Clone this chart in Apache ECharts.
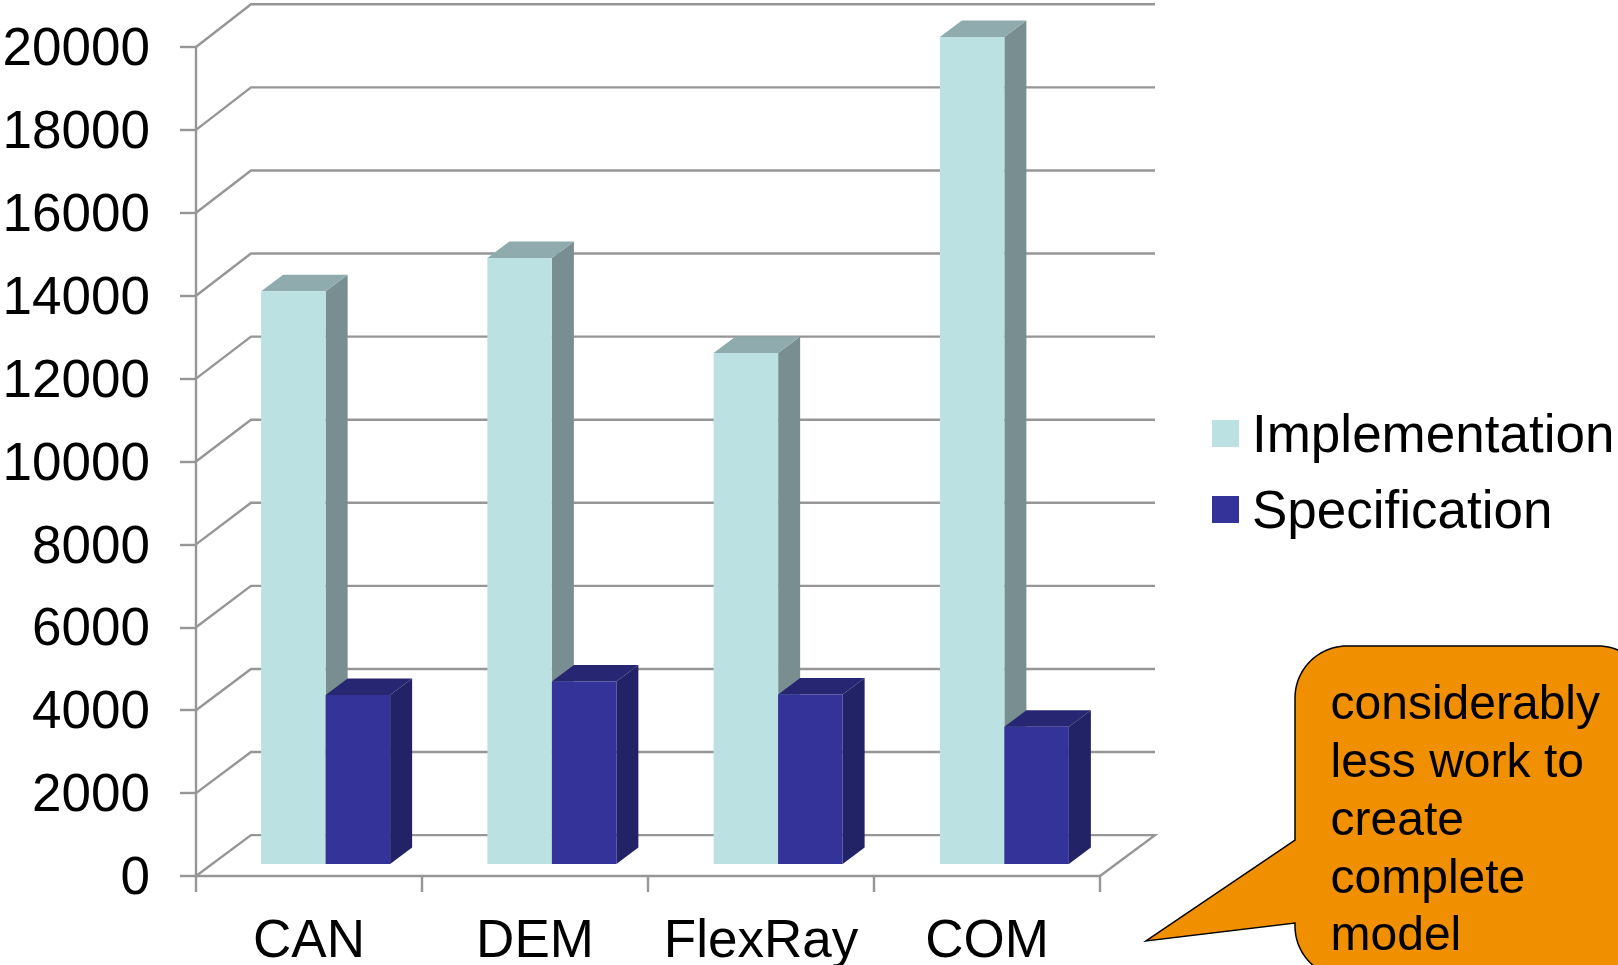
<!DOCTYPE html>
<html>
<head>
<meta charset="utf-8">
<style>html,body{margin:0;padding:0;background:#fff;overflow:hidden}#c{width:1618px;height:965px}</style>
<script src="https://cdn.jsdelivr.net/npm/echarts@6/dist/echarts.min.js"></script>
</head>
<body>
<div id="c"></div>
<script>
var categories = ['CAN', 'DEM', 'FlexRay', 'COM'];
var implementation = [13820, 14620, 12330, 19950];
var specification = [4080, 4400, 4090, 3310];
var valueTicks = [0, 2000, 4000, 6000, 8000, 10000, 12000, 14000, 16000, 18000, 20000];
var calloutLines = ['considerably', 'less work to', 'create', 'complete', 'model'];

var FONT = 'Liberation Sans';
var GRID_COLOR = '#969696';
var BAR_W = 64.5, DX = 22, DY = 16.5;
var WALL_DX = 55, WALL_TOP = 4.3, WALL_SCALE = 830.8 / 829;

function gridItem(params, api) {
  var p = api.coord([0, api.value(1)]);
  var r = params.coordSys;
  var x0 = r.x, y = p[1];
  var by = WALL_TOP + (y - r.y) * WALL_SCALE;
  var pts = [[x0, y], [x0 + WALL_DX, by], [r.x + r.width + WALL_DX, by]];
  if (api.value(1) === 0) pts.push([r.x + r.width, y]);
  return {type: 'polyline', shape: {points: pts}, style: {stroke: GRID_COLOR, lineWidth: 2.4, fill: null}};
}
function sideItem(side, topColor, sideColor) {
  return function (params, api) {
    var top = api.coord([api.value(0), api.value(1)]);
    var base = api.coord([api.value(0), 0]);
    var l = side < 0 ? top[0] - BAR_W : top[0];
    var rr = l + BAR_W, t = top[1], b = base[1];
    return {type: 'group', children: [
      {type: 'polygon', shape: {points: [[rr, t], [rr + DX, t - DY], [rr + DX, b - DY], [rr, b]]}, style: {fill: sideColor}},
      {type: 'polygon', shape: {points: [[l, t], [l + DX, t - DY], [rr + DX, t - DY], [rr, t]]}, style: {fill: topColor}}
    ]};
  };
}
function pairs(arr) { return arr.map(function (v, i) { return [i, v]; }); }
function arcPoints(cx, cy, r, a0, a1) {
  var pts = [], n = 24;
  for (var i = 0; i <= n; i++) {
    var a = (a0 + (a1 - a0) * i / n) * Math.PI / 180;
    pts.push([cx + r * Math.cos(a), cy + r * Math.sin(a)]);
  }
  return pts;
}
var calloutShape = [[1295, 840]]
  .concat(arcPoints(1347, 698, 52, 180, 270))
  .concat(arcPoints(1598, 698, 52, 270, 360))
  .concat(arcPoints(1598, 926, 52, 0, 90))
  .concat(arcPoints(1347, 926, 52, 90, 180))
  .concat([[1295, 923], [1146, 941]]);

var chart = echarts.init(document.getElementById('c'), null, {renderer: 'canvas', width: 1618, height: 965});
chart.setOption({
  animation: false,
  backgroundColor: '#ffffff',
  textStyle: {fontFamily: FONT},
  grid: [
    {left: 196, top: 47, width: 904, height: 829, outerBoundsMode: 'none'},
    {left: 212.5, top: 35, width: 905, height: 829, outerBoundsMode: 'none'}
  ],
  xAxis: [
    {type: 'category', gridIndex: 0, data: categories, boundaryGap: true,
     axisLine: {lineStyle: {color: GRID_COLOR, width: 2.4}},
     axisTick: {show: true, length: 16, alignWithLabel: false, lineStyle: {color: GRID_COLOR, width: 2.4}},
     axisLabel: {color: '#000', fontSize: 53, fontFamily: FONT, margin: 40, interval: 0},
     splitLine: {show: false}},
    {type: 'category', gridIndex: 1, data: categories, show: false}
  ],
  yAxis: [
    {type: 'value', gridIndex: 0, min: 0, max: 20000, interval: 2000,
     axisLine: {show: true, lineStyle: {color: GRID_COLOR, width: 2.4}},
     axisTick: {show: true, length: 16, lineStyle: {color: GRID_COLOR, width: 2.4}},
     axisLabel: {color: '#000', fontSize: 53, fontFamily: FONT, margin: 46, verticalAlign: 'top', lineHeight: 7,
       formatter: function (v) { return String(v); }},
     splitLine: {show: false}},
    {type: 'value', gridIndex: 1, min: 0, max: 20000, interval: 2000, show: false}
  ],
  legend: {
    data: ['Implementation', 'Specification'],
    orient: 'vertical', left: 1212, top: 410.5,
    padding: 0,
    icon: 'rect', itemWidth: 27, itemHeight: 27, itemGap: 23,
    selectedMode: false,
    formatter: function (name) { return '{a|' + name + '}{s| }'; },
    textStyle: {color: '#000', fontSize: 53, fontFamily: FONT, padding: [0, 0, 0, 8],
      rich: {
        a: {fontSize: 53, fontFamily: FONT, color: '#000', lineHeight: 52, verticalAlign: 'bottom'},
        s: {fontSize: 10, lineHeight: 60}
      }}
  },
  tooltip: {show: false},
  series: [
    {name: 'grid', type: 'custom', xAxisIndex: 0, yAxisIndex: 0, z: 1, silent: true,
     renderItem: gridItem, data: valueTicks.map(function (v) { return [0, v]; })},
    {name: 'impl3d', type: 'custom', xAxisIndex: 1, yAxisIndex: 1, z: 2, silent: true,
     renderItem: sideItem(-1, '#90ABAD', '#788E91'), data: pairs(implementation)},
    {name: 'Implementation', type: 'bar', xAxisIndex: 1, yAxisIndex: 1, z: 3, barWidth: BAR_W, barGap: 0,
     itemStyle: {color: '#BBE1E3'}, data: implementation},
    {name: 'spec3d', type: 'custom', xAxisIndex: 1, yAxisIndex: 1, z: 4, silent: true,
     renderItem: sideItem(1, '#262673', '#222266'), data: pairs(specification)},
    {name: 'Specification', type: 'bar', xAxisIndex: 1, yAxisIndex: 1, z: 5, barWidth: BAR_W, barGap: 0,
     itemStyle: {color: '#333399'}, data: specification}
  ],
  graphic: [
    {type: 'polygon', z: 10, silent: true,
     shape: {points: calloutShape},
     style: {fill: '#F08F00', stroke: '#000', lineWidth: 1.5}},
    {type: 'text', z: 11, silent: true, x: 1330.5, y: 677,
     style: {text: calloutLines.join('\n'), fill: '#000', fontSize: 48, fontFamily: FONT, lineHeight: 57.8}}
  ]
});
</script>
</body>
</html>
